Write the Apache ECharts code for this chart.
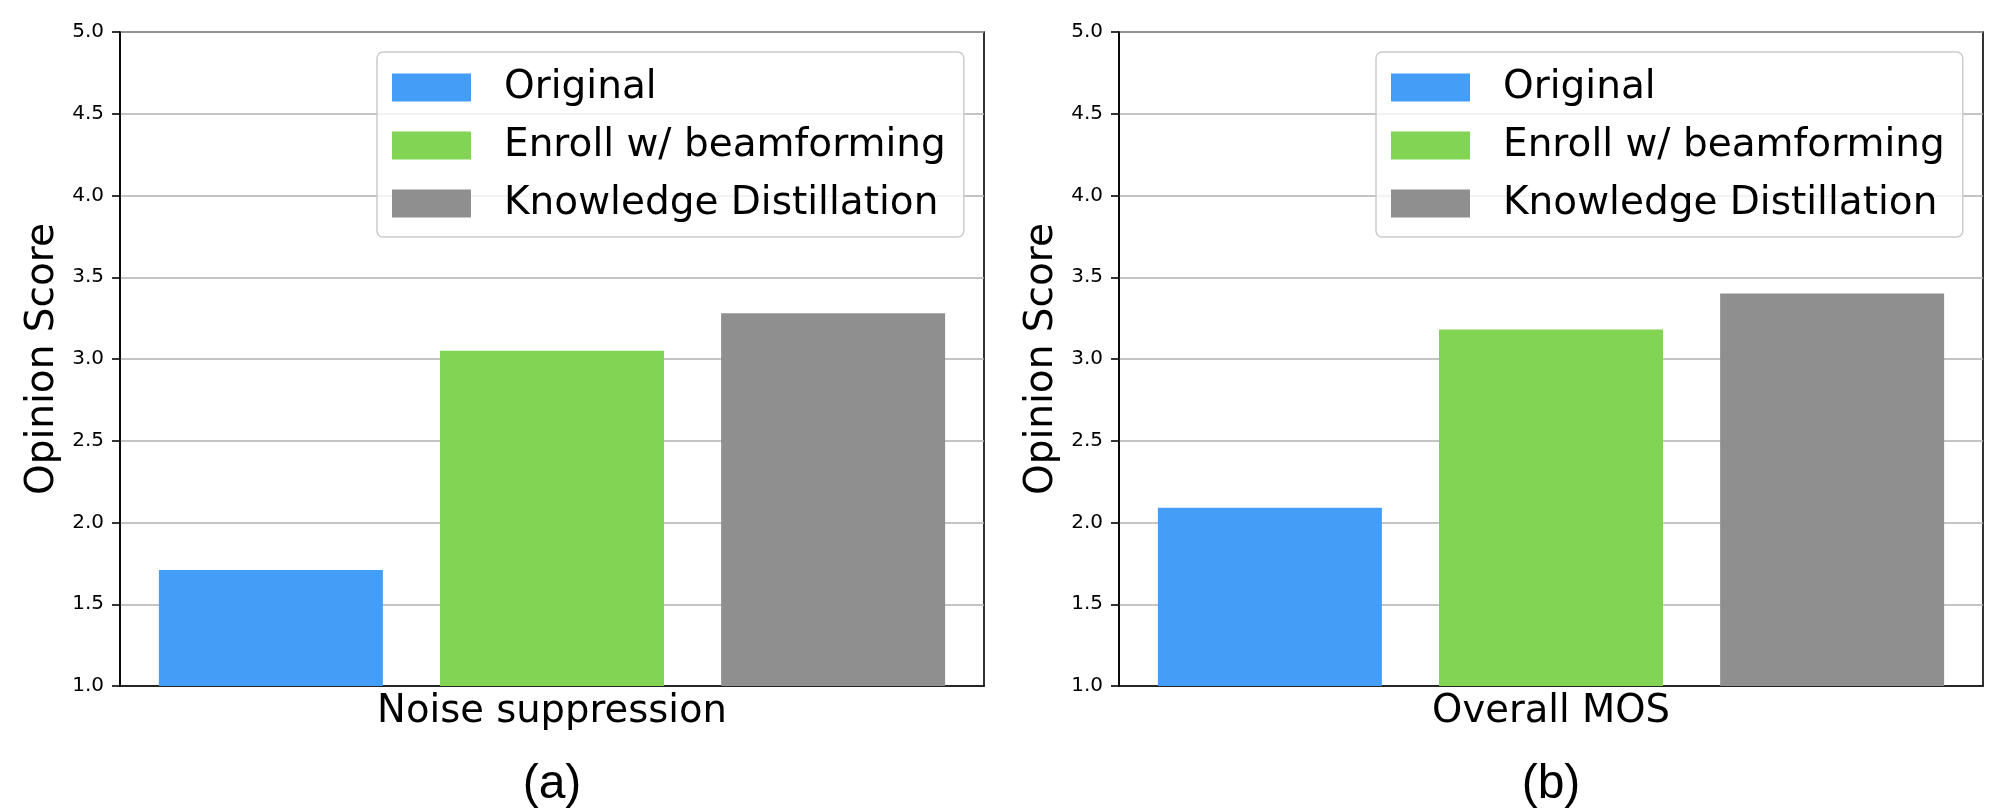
<!DOCTYPE html>
<html>
<head>
	<meta charset="utf-8" />
	<title>Opinion Score</title>
	<style>
		html, body { margin: 0; padding: 0; background: #fff; }
		#chart { width: 2007px; height: 809px; }
	</style>
</head>
<body>
	<div id="chart"></div>
	<script src="https://cdn.jsdelivr.net/npm/echarts@6/dist/echarts.min.js"></script>
	<script type="text/javascript">
		// values
		const categories = ['Noise suppression', 'Overall MOS'];
		const panelLabels = ['(a)', '(b)'];
		const seriesNames = ['Original', 'Enroll w/ beamforming', 'Knowledge Distillation'];
		const originalScores = [1.71, 2.09];
		const enrollScores = [3.05, 3.18];
		const kdScores = [3.28, 3.40];
		const seriesColors = ['#449ef8', '#82d455', '#8f8f90'];

		const chart = echarts.init(document.getElementById('chart'));
		const font = 'DejaVu Sans';
		const panelLeft = [120, 1119];
		const allScores = [originalScores, enrollScores, kdScores];

		const grids = [], xAxes = [], yAxes = [], legends = [], series = [], texts = [];
		panelLeft.forEach(function (left, p) {
			grids.push({
				left: left, top: 32, width: 864, height: 654,
				show: true, borderColor: '#000', borderWidth: 1.6, backgroundColor: 'transparent'
			});
			xAxes.push({
				type: 'category',
				gridIndex: p,
				data: [categories[p]],
				axisLine: { lineStyle: { color: '#000', width: 1.6 } },
				axisTick: { show: false },
				axisLabel: { color: '#000', fontFamily: font, fontSize: 38.5, margin: 6 }
			});
			yAxes.push({
				type: 'value',
				gridIndex: p,
				min: 1, max: 5, interval: 0.5,
				name: 'Opinion Score',
				nameLocation: 'middle',
				nameRotate: 90,
				nameGap: 58,
				nameTextStyle: { color: '#000', fontFamily: font, fontSize: 39 },
				axisLine: { show: true, lineStyle: { color: '#000', width: 1.6 } },
				axisTick: { show: true, length: 8, lineStyle: { color: '#000', width: 1.6 } },
				axisLabel: {
					color: '#000', fontFamily: font, fontSize: 20, margin: 16,
					formatter: function (v) { return v.toFixed(1); }
				},
				splitLine: { lineStyle: { color: '#b0b0b0', width: 1.5 } }
			});
			legends.push({
				orient: 'vertical',
				left: left + 257, top: 52,
				data: seriesNames,
				icon: 'rect',
				itemWidth: 79, itemHeight: 28, itemGap: 19,
				padding: [16, 18, 14, 15],
				backgroundColor: 'rgba(255,255,255,0.8)',
				borderColor: '#cccccc', borderWidth: 1.5, borderRadius: 6,
				selectedMode: false,
				textStyle: {
					color: '#000', fontFamily: font, fontSize: 39, lineHeight: 28,
					padding: [0, 0, 0, 28]
				}
			});
			seriesNames.forEach(function (name, i) {
				series.push({
					name: name,
					type: 'bar',
					xAxisIndex: p,
					yAxisIndex: p,
					barWidth: 224,
					barGap: '25.5%',
					itemStyle: { color: seriesColors[i] },
					data: [allScores[i][p]]
				});
			});
			texts.push({
				type: 'text',
				x: left + 432, y: 785,
				style: {
					text: panelLabels[p],
					font: '48px "Liberation Sans"',
					fill: '#000',
					textAlign: 'center',
					textVerticalAlign: 'middle'
				}
			});
		});

		chart.setOption({
			animation: false,
			grid: grids,
			xAxis: xAxes,
			yAxis: yAxes,
			legend: legends,
			series: series,
			graphic: texts
		});
	</script>
</body>
</html>
